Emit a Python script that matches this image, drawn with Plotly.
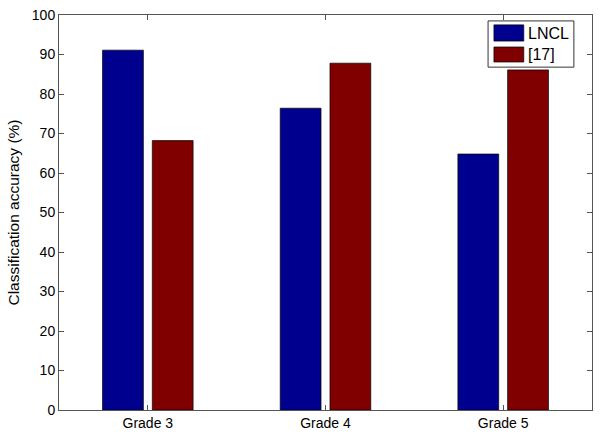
import plotly.graph_objects as go

grades = ["Grade 3", "Grade 4", "Grade 5"]
lncl = [91.1, 76.4, 64.8]
ref17 = [68.2, 87.8, 86.1]
yticks = [0, 10, 20, 30, 40, 50, 60, 70, 80, 90, 100]

x_pos = [1, 2, 3]
blue = "#00008F"
red = "#800000"
font = "Liberation Sans, Arial"

fig = go.Figure()
fig.add_trace(go.Bar(x=x_pos, y=lncl, name="LNCL", showlegend=False,
                     marker=dict(color=blue, line=dict(color="#000000", width=0.7))))
fig.add_trace(go.Bar(x=x_pos, y=ref17, name="[17]", showlegend=False,
                     marker=dict(color=red, line=dict(color="#000000", width=0.7))))

axis_common = dict(
    showline=True, linecolor="#555555", linewidth=1, mirror="ticks",
    ticks="inside", ticklen=5, tickcolor="#555555",
    showgrid=False, zeroline=False, automargin=False,
    tickfont=dict(family=font, size=14, color="#000000"),
)

# legend box drawn by hand (MATLAB-style wide swatches)
legend_shapes = [
    dict(type="rect", xref="paper", yref="paper", x0=0.805, x1=0.966, y0=0.868, y1=0.985,
         fillcolor="white", line=dict(color="#333333", width=1)),
    dict(type="rect", xref="paper", yref="paper", x0=0.816, x1=0.872, y0=0.934, y1=0.975,
         fillcolor=blue, line=dict(color="#000000", width=0.7)),
    dict(type="rect", xref="paper", yref="paper", x0=0.816, x1=0.872, y0=0.881, y1=0.919,
         fillcolor=red, line=dict(color="#000000", width=0.7)),
]
legend_text = [
    dict(text="LNCL", x=0.876, y=0.954),
    dict(text="[17]", x=0.876, y=0.900),
]
annotations = [
    dict(xref="paper", yref="paper", xanchor="left", yanchor="middle", showarrow=False,
         font=dict(family=font, size=16, color="#000000"), **t)
    for t in legend_text
]

fig.update_layout(
    width=601, height=440,
    paper_bgcolor="white", plot_bgcolor="white",
    margin=dict(l=59, r=9, t=15, b=30),
    barmode="group", bargap=0.44, bargroupgap=0.18,
    xaxis=dict(range=[0.5, 3.5], tickvals=x_pos, ticktext=grades, **axis_common),
    yaxis=dict(range=[0, 100], tickvals=yticks,
               title=dict(text="Classification accuracy (%)", standoff=8,
                          font=dict(family=font, size=15.5, color="#000000")),
               **axis_common),
    shapes=legend_shapes,
    annotations=annotations,
    showlegend=False,
)

# drop the default 8px page margin so the figure sits at the window corner
fig.write_html("out.html", config={"displayModeBar": False},
               post_script="document.body.style.margin='0';")
